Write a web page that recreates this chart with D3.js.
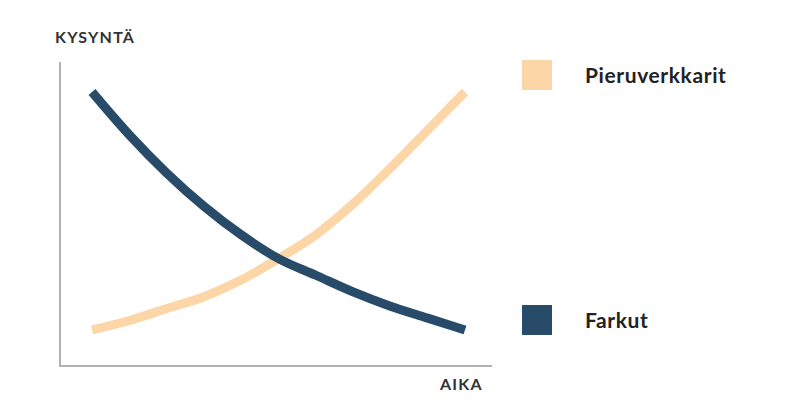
<!DOCTYPE html>
<html><head><meta charset="utf-8">
<script src="https://cdn.jsdelivr.net/npm/d3@7"></script>
<style>body{margin:0;background:#fff}text{font-family:Lato,"Open Sans",sans-serif}</style>
</head><body>
<svg id="chart" width="800" height="400"></svg>
<script>
// x = time steps, y = demand (0..100)
const timeSteps = [0,1,2,3,4,5,6,7,8,9,10];
const farkut = [100,82,66,52,40,30,23,16,10,5,0];
const pieru = [0,4,9,14,21,30,40,53,68,84,100];
const seriesNames = ["Pieruverkkarit","Farkut"];
const colors = ["#fdd6a8","#284b69"];

const svg = d3.select("#chart");
const x = d3.scaleLinear().domain([0,10]).range([92,465]);
const y = d3.scaleLinear().domain([0,100]).range([330,92]);

// axes: just plain lines, no ticks
svg.append("path").attr("d","M60,62V366H492").attr("fill","none").attr("stroke","#999").attr("stroke-width",1.5);
svg.append("text").attr("x",55).attr("y",43).text("KYSYNTÄ").attr("font-size",16).attr("font-weight","bold").attr("fill","#333").attr("letter-spacing",1.2);
svg.append("text").attr("x",440).attr("y",390).text("AIKA").attr("font-size",16).attr("font-weight","bold").attr("fill","#333").attr("letter-spacing",1.2);

const line = d3.line().x((d,i)=>x(timeSteps[i])).y(d=>y(d)).curve(d3.curveMonotoneX);
[pieru,farkut].forEach(function(s,i){
  svg.append("path").attr("d",line(s)).attr("fill","none").attr("stroke",colors[i]).attr("stroke-width",9);
});

const leg = d3.scaleOrdinal().domain(seriesNames).range([60,305]);
seriesNames.forEach(function(n,i){
  svg.append("rect").attr("x",522).attr("y",leg(n)).attr("width",30).attr("height",30).attr("fill",colors[i]);
  svg.append("text").attr("x",585).attr("y",leg(n)+23).text(n).attr("font-size",21).attr("font-weight","bold").attr("fill","#222").attr("letter-spacing",0.6);
});
</script>
</body></html>
